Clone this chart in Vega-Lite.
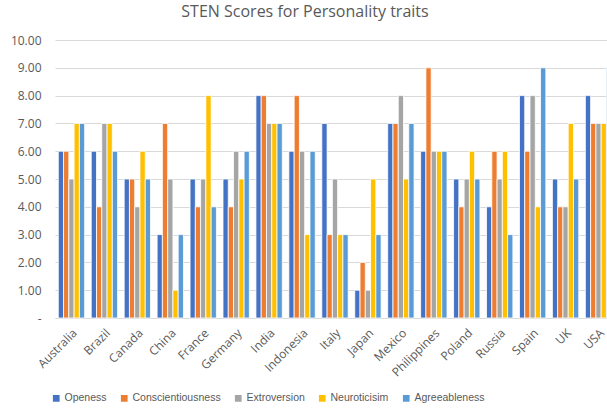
{
  "$schema": "https://vega.github.io/schema/vega-lite/v6.json",
  "autosize": "none",
  "width": 560,
  "height": 278,
  "padding": {"left": 55, "top": 40, "right": 0, "bottom": 98},
  "background": "white",
  "title": {"text": "STEN Scores for Personality traits", "fontSize": 16, "font": "Open Sans", "fontWeight": "normal", "color": "#595959", "anchor": "middle", "dx": -30, "offset": 14},
  "data": {"values": [
    {"country":"Australia","trait":"Openess","score":6},{"country":"Australia","trait":"Conscientiousness","score":6},{"country":"Australia","trait":"Extroversion","score":5},{"country":"Australia","trait":"Neuroticisim","score":7},{"country":"Australia","trait":"Agreeableness","score":7},
    {"country":"Brazil","trait":"Openess","score":6},{"country":"Brazil","trait":"Conscientiousness","score":4},{"country":"Brazil","trait":"Extroversion","score":7},{"country":"Brazil","trait":"Neuroticisim","score":7},{"country":"Brazil","trait":"Agreeableness","score":6},
    {"country":"Canada","trait":"Openess","score":5},{"country":"Canada","trait":"Conscientiousness","score":5},{"country":"Canada","trait":"Extroversion","score":4},{"country":"Canada","trait":"Neuroticisim","score":6},{"country":"Canada","trait":"Agreeableness","score":5},
    {"country":"China","trait":"Openess","score":3},{"country":"China","trait":"Conscientiousness","score":7},{"country":"China","trait":"Extroversion","score":5},{"country":"China","trait":"Neuroticisim","score":1},{"country":"China","trait":"Agreeableness","score":3},
    {"country":"France","trait":"Openess","score":5},{"country":"France","trait":"Conscientiousness","score":4},{"country":"France","trait":"Extroversion","score":5},{"country":"France","trait":"Neuroticisim","score":8},{"country":"France","trait":"Agreeableness","score":4},
    {"country":"Germany","trait":"Openess","score":5},{"country":"Germany","trait":"Conscientiousness","score":4},{"country":"Germany","trait":"Extroversion","score":6},{"country":"Germany","trait":"Neuroticisim","score":5},{"country":"Germany","trait":"Agreeableness","score":6},
    {"country":"India","trait":"Openess","score":8},{"country":"India","trait":"Conscientiousness","score":8},{"country":"India","trait":"Extroversion","score":7},{"country":"India","trait":"Neuroticisim","score":7},{"country":"India","trait":"Agreeableness","score":7},
    {"country":"Indonesia","trait":"Openess","score":6},{"country":"Indonesia","trait":"Conscientiousness","score":8},{"country":"Indonesia","trait":"Extroversion","score":6},{"country":"Indonesia","trait":"Neuroticisim","score":3},{"country":"Indonesia","trait":"Agreeableness","score":6},
    {"country":"Italy","trait":"Openess","score":7},{"country":"Italy","trait":"Conscientiousness","score":3},{"country":"Italy","trait":"Extroversion","score":5},{"country":"Italy","trait":"Neuroticisim","score":3},{"country":"Italy","trait":"Agreeableness","score":3},
    {"country":"Japan","trait":"Openess","score":1},{"country":"Japan","trait":"Conscientiousness","score":2},{"country":"Japan","trait":"Extroversion","score":1},{"country":"Japan","trait":"Neuroticisim","score":5},{"country":"Japan","trait":"Agreeableness","score":3},
    {"country":"Mexico","trait":"Openess","score":7},{"country":"Mexico","trait":"Conscientiousness","score":7},{"country":"Mexico","trait":"Extroversion","score":8},{"country":"Mexico","trait":"Neuroticisim","score":5},{"country":"Mexico","trait":"Agreeableness","score":7},
    {"country":"Philippines","trait":"Openess","score":6},{"country":"Philippines","trait":"Conscientiousness","score":9},{"country":"Philippines","trait":"Extroversion","score":6},{"country":"Philippines","trait":"Neuroticisim","score":6},{"country":"Philippines","trait":"Agreeableness","score":6},
    {"country":"Poland","trait":"Openess","score":5},{"country":"Poland","trait":"Conscientiousness","score":4},{"country":"Poland","trait":"Extroversion","score":5},{"country":"Poland","trait":"Neuroticisim","score":6},{"country":"Poland","trait":"Agreeableness","score":5},
    {"country":"Russia","trait":"Openess","score":4},{"country":"Russia","trait":"Conscientiousness","score":6},{"country":"Russia","trait":"Extroversion","score":5},{"country":"Russia","trait":"Neuroticisim","score":6},{"country":"Russia","trait":"Agreeableness","score":3},
    {"country":"Spain","trait":"Openess","score":8},{"country":"Spain","trait":"Conscientiousness","score":6},{"country":"Spain","trait":"Extroversion","score":8},{"country":"Spain","trait":"Neuroticisim","score":4},{"country":"Spain","trait":"Agreeableness","score":9},
    {"country":"UK","trait":"Openess","score":5},{"country":"UK","trait":"Conscientiousness","score":4},{"country":"UK","trait":"Extroversion","score":4},{"country":"UK","trait":"Neuroticisim","score":7},{"country":"UK","trait":"Agreeableness","score":5},
    {"country":"USA","trait":"Openess","score":8},{"country":"USA","trait":"Conscientiousness","score":7},{"country":"USA","trait":"Extroversion","score":7},{"country":"USA","trait":"Neuroticisim","score":7},{"country":"USA","trait":"Agreeableness","score":9}
  ]},
  "mark": {"type": "bar", "stroke": "white", "strokeWidth": 0.8},
  "encoding": {
    "x": {"field": "country", "type": "nominal", "sort": null,
      "scale": {"paddingInner": 0.2, "paddingOuter": 0.1},
      "axis": {"title": null, "labelAngle": -45, "labelAlign": "right", "labelBaseline": "top", "labelFontSize": 12, "labelFont": "Open Sans", "labelColor": "#595959", "ticks": false, "domainColor": "#d9d9d9", "labelPadding": 9}},
    "xOffset": {"field": "trait", "type": "nominal", "sort": ["Openess","Conscientiousness","Extroversion","Neuroticisim","Agreeableness"], "scale": {"paddingInner": 0}},
    "y": {"field": "score", "type": "quantitative",
      "scale": {"domain": [0, 10]},
      "axis": {"title": null, "values": [0,1,2,3,4,5,6,7,8,9,10], "labelExpr": "datum.value == 0 ? '-' : format(datum.value, '.2f')", "labelFontSize": 12, "labelFont": "Open Sans", "labelColor": "#595959", "ticks": false, "domain": false, "gridColor": "#d9d9d9", "labelPadding": 14, "labelOverlap": false}},
    "color": {"field": "trait", "type": "nominal", "sort": ["Openess","Conscientiousness","Extroversion","Neuroticisim","Agreeableness"],
      "scale": {"domain": ["Openess","Conscientiousness","Extroversion","Neuroticisim","Agreeableness"], "range": ["#4472C4","#ED7D31","#A5A5A5","#FFC000","#5B9BD5"]},
      "legend": {"title": null, "orient": "none", "direction": "horizontal", "legendX": -4, "legendY": 353, "symbolType": "square", "symbolSize": 45, "labelFontSize": 10.5, "labelFont": "Liberation Sans", "labelColor": "#595959", "columnPadding": 12, "labelOffset": 3, "symbolStrokeWidth": 0}}
  },
  "config": {"view": {"stroke": null}}
}
